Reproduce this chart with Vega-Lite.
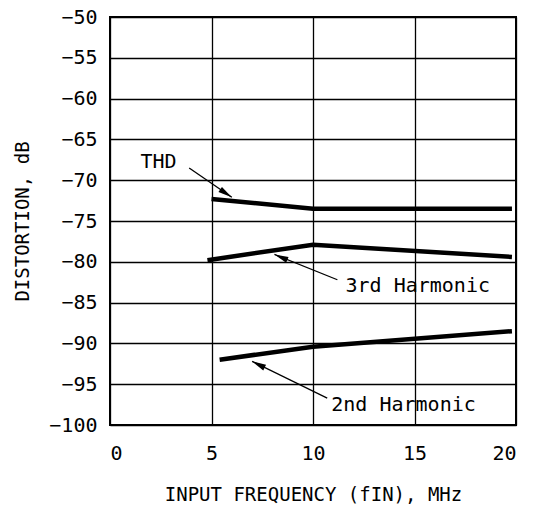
{
  "$schema": "https://vega.github.io/schema/vega-lite/v6.json",
  "width": 406,
  "height": 408,
  "autosize": "none",
  "padding": {"left": 110, "top": 17, "right": 27, "bottom": 92},
  "background": "white",
  "config": {
    "view": {"stroke": "black", "strokeWidth": 2},
    "font": "DejaVu Sans Mono",
    "axis": {
      "labelFont": "DejaVu Sans Mono",
      "labelFontSize": 20,
      "labelColor": "black",
      "titleFont": "DejaVu Sans Mono",
      "titleFontSize": 19,
      "titleFontWeight": "normal",
      "titleColor": "black",
      "grid": true,
      "gridColor": "black",
      "gridWidth": 1.3,
      "gridOpacity": 1,
      "ticks": false,
      "domain": false
    }
  },
  "datasets": {
    "curves": [
      {"series": "THD", "f": 5.0, "dist": -72.3},
      {"series": "THD", "f": 10.0, "dist": -73.5},
      {"series": "THD", "f": 19.8, "dist": -73.5},
      {"series": "3rd Harmonic", "f": 4.8, "dist": -79.8},
      {"series": "3rd Harmonic", "f": 10.0, "dist": -77.9},
      {"series": "3rd Harmonic", "f": 19.8, "dist": -79.4},
      {"series": "2nd Harmonic", "f": 5.4, "dist": -92.0},
      {"series": "2nd Harmonic", "f": 10.0, "dist": -90.4},
      {"series": "2nd Harmonic", "f": 19.8, "dist": -88.5}
    ],
    "labels": [
      {"label": "THD", "f": 1.5, "dist": -67.8, "tf": 3.9, "td": -68.5, "hf": 6.0, "hd": -72.1},
      {"label": "3rd Harmonic", "f": 11.6, "dist": -83.0, "tf": 11.2, "td": -82.2, "hf": 8.1, "hd": -79.1},
      {"label": "2nd Harmonic", "f": 10.9, "dist": -97.5, "tf": 10.7, "td": -96.7, "hf": 7.0, "hd": -92.2}
    ]
  },
  "layer": [
    {
      "data": {"name": "curves"},
      "mark": {"type": "line", "color": "black", "strokeWidth": 4.5},
      "encoding": {
        "x": {
          "field": "f", "type": "quantitative",
          "scale": {"domain": [0, 20], "nice": false},
          "axis": {"values": [0, 5, 10, 15, 20], "labelPadding": 18, "titlePadding": 22, "title": "INPUT FREQUENCY (fIN), MHz"}
        },
        "y": {
          "field": "dist", "type": "quantitative",
          "scale": {"domain": [-100, -50], "nice": false},
          "axis": {"values": [-100, -95, -90, -85, -80, -75, -70, -65, -60, -55, -50], "labelPadding": 13, "titlePadding": 16, "title": "DISTORTION, dB"}
        },
        "detail": {"field": "series"}
      }
    },
    {
      "data": {"name": "labels"},
      "mark": {"type": "rule", "color": "black", "strokeWidth": 1.3},
      "encoding": {
        "x": {"field": "tf", "type": "quantitative"},
        "y": {"field": "td", "type": "quantitative"},
        "x2": {"field": "hf"},
        "y2": {"field": "hd"}
      }
    },
    {
      "data": {"name": "labels"},
      "transform": [{"filter": "datum.label == 'THD'"}],
      "mark": {"type": "point", "shape": "M0,0 L-2,-0.45 L-2,0.45 Z", "filled": true, "color": "black", "opacity": 1, "size": 196, "angle": 34},
      "encoding": {
        "x": {"field": "hf", "type": "quantitative"},
        "y": {"field": "hd", "type": "quantitative"}
      }
    },
    {
      "data": {"name": "labels"},
      "transform": [{"filter": "datum.label == '3rd Harmonic'"}],
      "mark": {"type": "point", "shape": "M0,0 L-2,-0.45 L-2,0.45 Z", "filled": true, "color": "black", "opacity": 1, "size": 196, "angle": 202.6},
      "encoding": {
        "x": {"field": "hf", "type": "quantitative"},
        "y": {"field": "hd", "type": "quantitative"}
      }
    },
    {
      "data": {"name": "labels"},
      "transform": [{"filter": "datum.label == '2nd Harmonic'"}],
      "mark": {"type": "point", "shape": "M0,0 L-2,-0.45 L-2,0.45 Z", "filled": true, "color": "black", "opacity": 1, "size": 196, "angle": 206.3},
      "encoding": {
        "x": {"field": "hf", "type": "quantitative"},
        "y": {"field": "hd", "type": "quantitative"}
      }
    },
    {
      "data": {"name": "labels"},
      "mark": {"type": "text", "align": "left", "baseline": "middle", "font": "DejaVu Sans Mono", "fontSize": 20, "color": "black"},
      "encoding": {
        "x": {"field": "f", "type": "quantitative"},
        "y": {"field": "dist", "type": "quantitative"},
        "text": {"field": "label"}
      }
    }
  ]
}
